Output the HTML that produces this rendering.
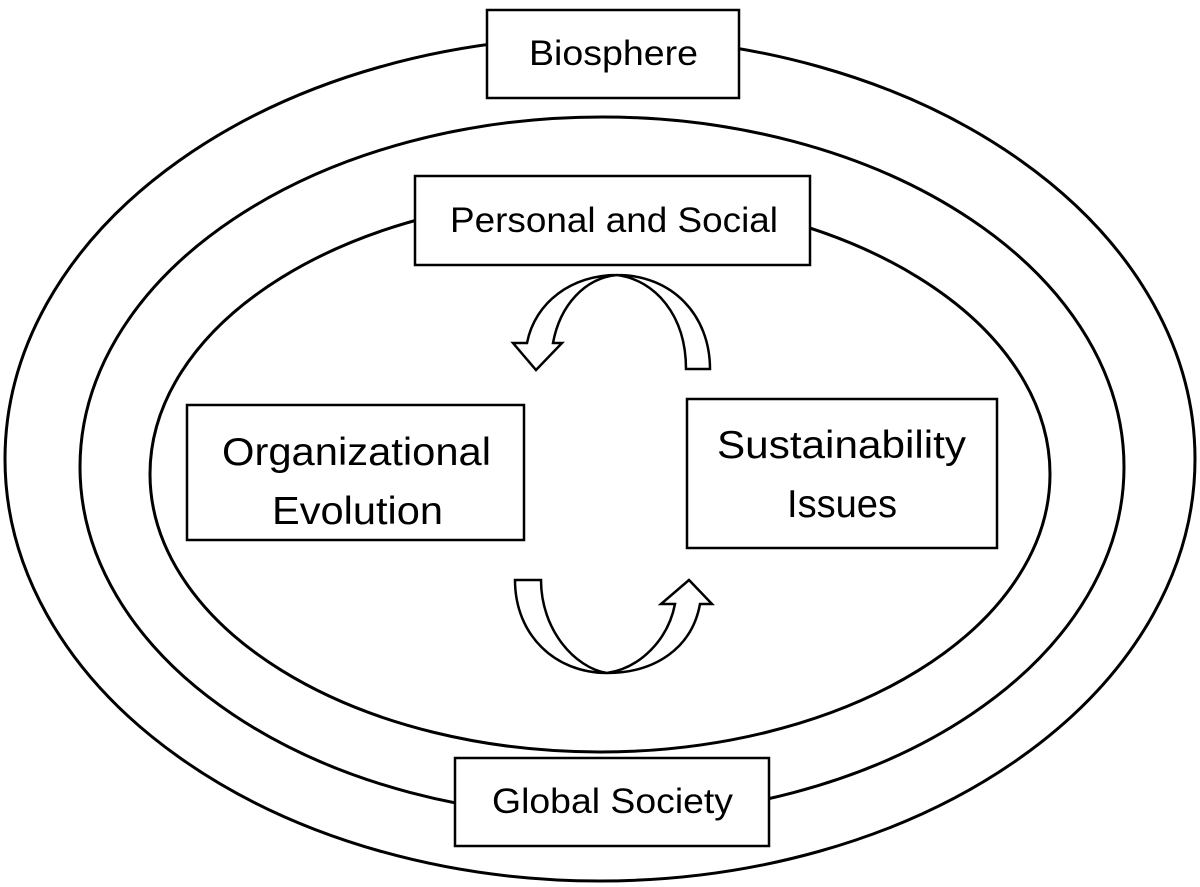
<!DOCTYPE html>
<html><head><meta charset="utf-8"><style>html,body{margin:0;padding:0;background:#fff}svg{display:block}</style></head>
<body>
<svg width="1200" height="887" viewBox="0 0 1200 887" xmlns="http://www.w3.org/2000/svg" font-family="Liberation Sans, sans-serif" fill="none" stroke="#000" stroke-width="3">
<ellipse cx="600" cy="459" rx="595" ry="422"/>
<ellipse cx="602" cy="467" rx="522" ry="350"/>
<ellipse cx="600" cy="474" rx="450" ry="278"/>
<g fill="#fff" stroke-width="2.5">
<rect x="487" y="10" width="252" height="88"/>
<rect x="415" y="176" width="395" height="89"/>
<rect x="455" y="758" width="314" height="88"/>
<rect x="187" y="405" width="337" height="135"/>
<rect x="687" y="399" width="310" height="149"/>
<path d="M686,369 L710,369 C710,315 672,275 617,275 C572,275 535,302 527,343 L513,343 L536,370 L562,343 L553,343 C560,305 585,278 617,275 C655,280 686,315 686,369 Z"/>
<path d="M515,580 L541,580 C541,630 575,668 607,673 C640,668 668,640 675,604 L661,604 L689,580 L712,604 L700,604 C692,648 655,673 607,673 C555,673 515,635 515,580 Z"/>
</g>
<g fill="#000" stroke="none" font-size="35">
<text x="529" y="65" textLength="169" lengthAdjust="spacingAndGlyphs">Biosphere</text>
<text x="450" y="232" textLength="328" lengthAdjust="spacingAndGlyphs">Personal and Social</text>
<text x="492" y="813" textLength="241" lengthAdjust="spacingAndGlyphs">Global Society</text>
</g>
<g fill="#000" stroke="none" font-size="39">
<text x="222" y="465" textLength="269" lengthAdjust="spacingAndGlyphs">Organizational</text>
<text x="272" y="524" textLength="171" lengthAdjust="spacingAndGlyphs">Evolution</text>
<text x="717" y="458" textLength="249" lengthAdjust="spacingAndGlyphs">Sustainability</text>
<text x="787" y="517" textLength="110" lengthAdjust="spacingAndGlyphs">Issues</text>
</g>
</svg>
</body></html>
